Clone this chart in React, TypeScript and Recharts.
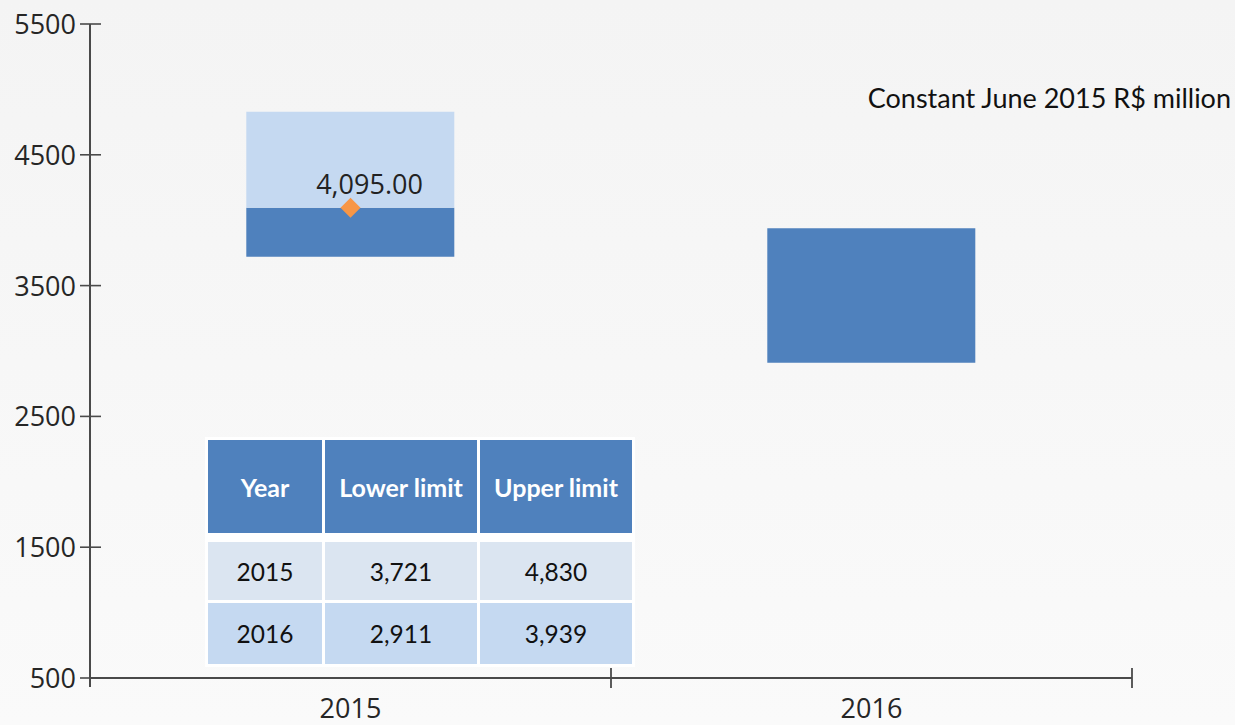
import { ComposedChart, Bar, Line, XAxis, YAxis } from "recharts"

const years = ["2015", "2016"]
const lowerLimit = [3721, 2911]
const upperLimit = [4830, 3939]
const estimate: (number | null)[] = [4095, null]
const yTicks = [500, 1500, 2500, 3500, 4500, 5500]

const W = 1235
const H = 725
const LEFT = 90
const RIGHT = 103
const BAND = (W - LEFT - RIGHT) / years.length
const AXIS = "#4a4a4a"
const DARK = "#4F81BD"
const LIGHT = "#C5D9F1"

const data = years.map((year, i) => {
  const mid = estimate[i]
  return {
    year,
    base: lowerLimit[i],
    low: (mid ?? upperLimit[i]) - lowerLimit[i],
    high: mid == null ? 0 : upperLimit[i] - mid,
    estimate: mid,
  }
})

const YTick = (props: any) => {
  const { x, y, payload } = props
  return (
    <g>
      <line x1={x - 10} x2={x + 11} y1={y} y2={y} stroke={AXIS} strokeWidth={1.6} />
      {payload.value === yTicks[0] && <line x1={x} x2={x} y1={y} y2={y + 9} stroke={AXIS} strokeWidth={2} />}
      <text x={x - 14} y={y + 10} textAnchor="end" fontFamily="Open Sans" fontSize={27} fill="#262626">
        {payload.value}
      </text>
    </g>
  )
}

const XTick = (props: any) => {
  const { x, y, payload } = props
  return (
    <g>
      <line x1={x + BAND / 2} x2={x + BAND / 2} y1={y - 10} y2={y + 10} stroke={AXIS} strokeWidth={1.8} />
      <text x={x} y={y + 40} textAnchor="middle" fontFamily="Open Sans" fontSize={27} fill="#262626">
        {payload.value}
      </text>
    </g>
  )
}

const Diamond = (props: any) => {
  const { cx, cy, payload, index } = props
  if (payload?.estimate == null || cy == null) return <g key={index} />
  const r = 10
  return (
    <g key={index}>
      <polygon points={`${cx},${cy - r} ${cx + r},${cy} ${cx},${cy + r} ${cx - r},${cy}`} fill="#F79646" />
      <text x={cx + 19} y={cy - 14} textAnchor="middle" fontFamily="Open Sans" fontSize={27} fill="#222">
        {payload.estimate.toLocaleString("en-US", { minimumFractionDigits: 2 })}
      </text>
    </g>
  )
}

const cell = (bg: string, color: string, bold: boolean) => ({
  background: bg,
  color,
  fontWeight: bold ? 700 : 400,
  fontSize: bold ? 25 : 24.5,
  display: "flex",
  alignItems: "center",
  justifyContent: "center",
})

export default function App() {
  return (
    <div
      style={{
        position: "absolute",
        left: 0,
        top: 0,
        width: W,
        height: H,
        background: "linear-gradient(#f4f4f4, #fafafa)",
        overflow: "hidden",
      }}
    >
      <ComposedChart width={W} height={H} data={data} barCategoryGap="30%" margin={{ top: 24, right: RIGHT, left: 0, bottom: 0 }}>
        <XAxis dataKey="year" height={47} axisLine={{ stroke: AXIS, strokeWidth: 2 }} tickLine={false} tickSize={0} tickMargin={0} tick={<XTick />} />
        <YAxis
          width={LEFT}
          domain={[500, 5500]}
          ticks={yTicks}
          interval={0}
          allowDataOverflow
          axisLine={{ stroke: AXIS, strokeWidth: 2 }}
          tickLine={false}
          tickSize={0}
          tickMargin={0}
          tick={<YTick />}
        />
        <Bar dataKey="base" stackId="r" fill="transparent" isAnimationActive={false} />
        <Bar dataKey="low" stackId="r" fill={DARK} isAnimationActive={false} />
        <Bar dataKey="high" stackId="r" fill={LIGHT} isAnimationActive={false} />
        <Line dataKey="estimate" stroke="none" dot={Diamond} activeDot={false} isAnimationActive={false} />
      </ComposedChart>

      <div
        style={{
          position: "absolute",
          right: 4,
          top: 84,
          fontFamily: "Lato",
          fontSize: 27,
          lineHeight: 1,
          color: "#111",
          whiteSpace: "nowrap",
        }}
      >
        Constant June 2015 R$ million
      </div>

      <div
        style={{
          position: "absolute",
          left: 205,
          top: 437,
          padding: 3,
          background: "#fff",
          display: "grid",
          gridTemplateColumns: "114px 152px 152px",
          gridTemplateRows: "93px 3px 58px 61px",
          columnGap: 3,
          rowGap: 3,
          fontFamily: "Lato",
        }}
      >
        <div style={cell(DARK, "#fff", true)}>Year</div>
        <div style={cell(DARK, "#fff", true)}>Lower limit</div>
        <div style={cell(DARK, "#fff", true)}>Upper limit</div>
        <div style={{ gridColumn: "1 / 4" }} />
        {years.map((y, i) => {
          const bg = i === 0 ? "#DBE5F1" : LIGHT
          return [
            <div key={y + "y"} style={cell(bg, "#111", false)}>{y}</div>,
            <div key={y + "l"} style={cell(bg, "#111", false)}>{lowerLimit[i].toLocaleString("en-US")}</div>,
            <div key={y + "u"} style={cell(bg, "#111", false)}>{upperLimit[i].toLocaleString("en-US")}</div>,
          ]
        })}
      </div>
    </div>
  )
}
